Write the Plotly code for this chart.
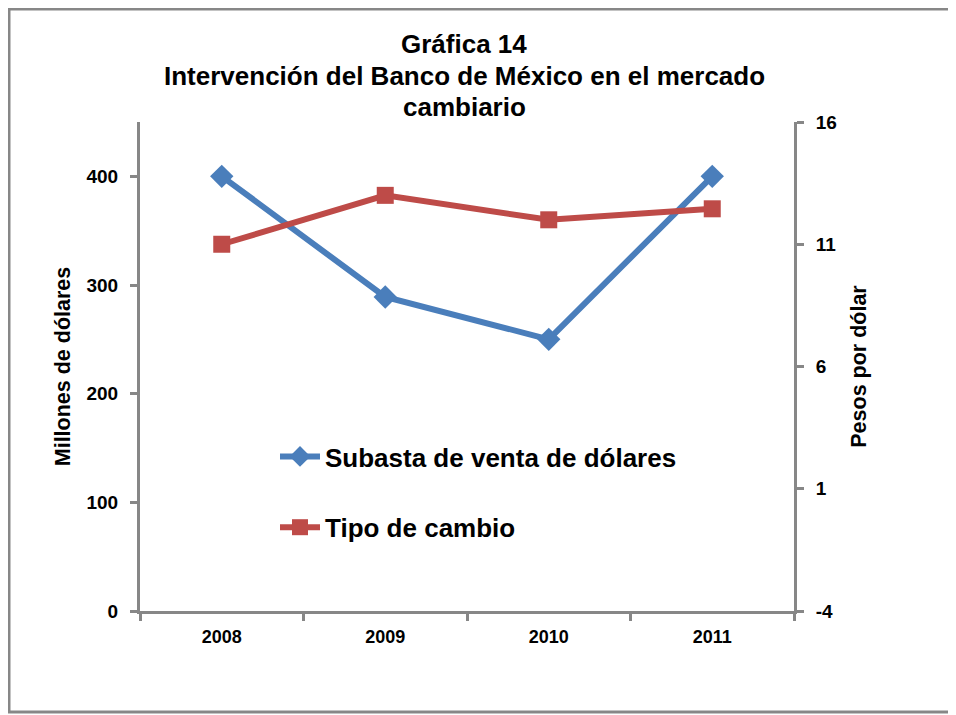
import plotly.graph_objects as go

years = ["2008", "2009", "2010", "2011"]
subasta = [400, 289, 250, 400]          # millones de dólares
tipo_cambio = [11.0, 13.0, 12.0, 12.45]  # pesos por dólar
left_ticks = [0, 100, 200, 300, 400]
right_ticks = [-4, 1, 6, 11, 16]
right_labels = ["-4", "1", "6", "11", "16"]
title_lines = ["Gráfica 14", "Intervención del Banco de México en el mercado", "cambiario"]

# page has an 8px body margin, so the figure is sized/positioned to compensate
OFF = 8
W, H = 956 - OFF, 715 - OFF
ml, mt = 140 - OFF, 122 - OFF
mr, mb = W - (794 - OFF), H - (611 - OFF)
pw, ph = W - ml - mr, H - mt - mb

BLUE = "#4a7ebb"
RED = "#be4b48"
AXIS = "#878787"
FONT = "Liberation Sans"


def px_x(x):  # page pixel -> paper x
    return (x - OFF - ml) / pw


def px_y(y):  # page pixel -> paper y
    return 1 - (y - OFF - mt) / ph


fig = go.Figure()
fig.add_trace(go.Scatter(
    x=years, y=subasta, name="Subasta de venta de dólares",
    mode="lines+markers", legendgroup="a",
    line=dict(color=BLUE, width=6),
    marker=dict(symbol="diamond", size=18, color=BLUE),
))
fig.add_trace(go.Scatter(
    x=years, y=tipo_cambio, name="Tipo de cambio", yaxis="y2",
    mode="lines+markers", legendgroup="b",
    line=dict(color=RED, width=6),
    marker=dict(symbol="square", size=17, color=RED),
))

axis_common = dict(
    showline=True, linecolor=AXIS, linewidth=3,
    ticks="outside", ticklen=7, tickcolor=AXIS, tickwidth=3,
    showgrid=False, zeroline=False,
)

fig.update_layout(
    width=W, height=H,
    margin=dict(l=ml, r=mr, t=mt, b=mb, autoexpand=False),
    paper_bgcolor="white", plot_bgcolor="white",
    font=dict(family=FONT, color="black"),
    xaxis=dict(
        type="category", range=[-0.5, 3.5], tickson="boundaries",
        tickfont=dict(size=18, family=FONT, weight="bold"),
        ticklabelstandoff=7,
        **axis_common,
    ),
    yaxis=dict(
        range=[0, 450], tickvals=left_ticks,
        tickfont=dict(size=19, family=FONT, weight="bold"),
        ticklabelstandoff=8,
        title=dict(text="Millones de dólares",
                   font=dict(size=21.5, family=FONT, weight="bold"), standoff=10),
        **axis_common,
    ),
    yaxis2=dict(
        range=[-4, 16], tickvals=right_ticks, ticktext=right_labels,
        overlaying="y", side="right",
        tickfont=dict(size=19, family=FONT, weight="bold"),
        ticklabelstandoff=8,
        title=dict(text="Pesos por dólar",
                   font=dict(size=21.5, family=FONT, weight="bold"), standoff=16),
        **axis_common,
    ),
    legend=dict(
        x=px_x(275), y=px_y(433),
        xanchor="left", yanchor="top",
        bgcolor="rgba(0,0,0,0)",
        font=dict(size=26, family=FONT, weight="bold"),
        tracegroupgap=34, itemwidth=40,
    ),
    showlegend=True,
)

for text, yc in zip(title_lines, [44, 76, 107]):
    fig.add_annotation(
        text=text, xref="paper", yref="paper",
        x=px_x(464), y=px_y(yc), xanchor="center", yanchor="middle",
        showarrow=False, font=dict(size=26, family=FONT, weight="bold"),
    )

# outer frame around the whole chart
fig.add_shape(
    type="rect", xref="paper", yref="paper",
    x0=px_x(OFF + 1), x1=px_x(953),
    y0=px_y(712), y1=px_y(OFF + 1),
    line=dict(color=AXIS, width=3), layer="below",
)

fig.write_html("out.html")
